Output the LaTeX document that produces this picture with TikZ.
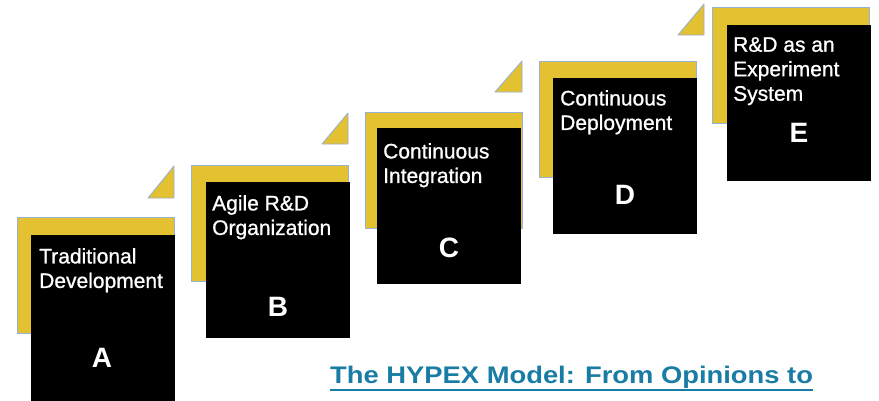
\documentclass[tikz,border=0pt]{standalone}
\usepackage{fontspec}
\setmainfont{Liberation Sans}
\newfontfamily\boxfont[FakeBold=0.9]{Liberation Sans}

\definecolor{stepgold}{RGB}{227,193,48}
\definecolor{stepedge}{RGB}{150,178,215}
\definecolor{titleblue}{RGB}{24,124,164}

\tikzset{
  goldbox/.style={rectangle, draw=stepedge, line width=0.9pt, fill=stepgold,
    inner sep=0pt, outer sep=0pt, minimum width=157pt, minimum height=116pt, anchor=north west},
  blackbox/.style={rectangle, fill=black, inner sep=0pt, outer sep=0pt,
    minimum width=144pt, minimum height=156pt, anchor=north west},
  steptext/.style={text=white, font=\boxfont\fontsize{21}{24.5}\selectfont, align=left,
    inner sep=0pt, anchor=north west},
  steplabel/.style={text=white, font=\fontsize{28}{28}\selectfont\bfseries, inner sep=0pt},
  tab/.style={draw=stepedge, line width=0.9pt, fill=stepgold, line join=round},
}

\begin{document}
\begin{tikzpicture}[x=1pt,y=1pt]
    \useasboundingbox (0,0) rectangle (879,-400);
    \clip (0,0) rectangle (879,-400);

    % step A
    \node[goldbox] (goldA) at (17,-217) {};
    \node[blackbox, minimum height=175pt] (blackA) at (31,-235) {};
    \node[steptext] (textA) at (39,-248) {Traditional\\Development};
    \node[steplabel] (labelA) at (102,-358) {A};
    \draw[tab] (148,-198) -- (174,-198) -- (174,-166) -- cycle;

    % step B
    \node[goldbox] (goldB) at (191,-165) {};
    \node[blackbox] (blackB) at (206,-182) {};
    \node[steptext] (textB) at (212,-195) {Agile R\&D\\Organization};
    \node[steplabel] (labelB) at (278,-307) {B};
    \draw[tab] (322,-144) -- (348,-144) -- (348,-113) -- cycle;

    % step C
    \node[goldbox] (goldC) at (365,-112) {};
    \node[blackbox] (blackC) at (377,-128) {};
    \node[steptext] (textC) at (383,-143) {Continuous\\Integration};
    \node[steplabel] (labelC) at (449,-248) {C};
    \draw[tab] (495,-92) -- (522,-92) -- (522,-61) -- cycle;

    % step D
    \node[goldbox] (goldD) at (539,-61) {};
    \node[blackbox] (blackD) at (553,-78) {};
    \node[steptext] (textD) at (560,-90) {Continuous\\Deployment};
    \node[steplabel] (labelD) at (625,-195) {D};
    \draw[tab] (678,-35) -- (704,-35) -- (704,-4) -- cycle;

    % step E
    \node[goldbox] (goldE) at (712,-7) {};
    \node[blackbox] (blackE) at (727,-25) {};
    \node[steptext] (textE) at (733,-37) {R\&D as an\\Experiment\\System};
    \node[steplabel] (labelE) at (799,-133) {E};

    % title link
    \node[anchor=base west, inner sep=0pt, text=titleblue,
        font=\fontsize{24}{24}\selectfont\bfseries] (title) at (330,-383)
        {\scalebox{1.14}[1]{The HYPEX Model: From Opinions to}};
    \draw[titleblue, line width=1.4pt] ([yshift=-7pt]title.base west) -- ([yshift=-7pt]title.base east);
\end{tikzpicture}
\end{document}
